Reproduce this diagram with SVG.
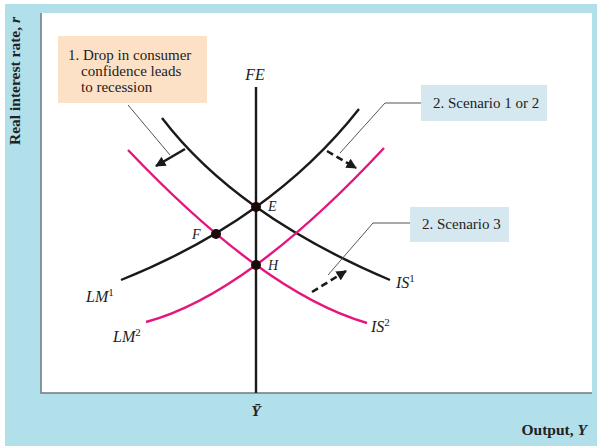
<svg xmlns="http://www.w3.org/2000/svg" width="597" height="446" viewBox="0 0 597 446">
<defs>
<style>
.t{font-family:"Liberation Serif","Times New Roman",serif;fill:#222}
.box{font-size:15px}
.ax{font-size:15.5px;font-weight:bold}
.lab{font-size:16px;font-style:italic}
.pt{font-size:14px;font-style:italic}
.sup{font-size:11px;font-style:normal}
.blk{fill:none;stroke:#1a1a1a;stroke-width:2.4}
.mag{fill:none;stroke:#e6157c;stroke-width:2.4}
.lead{fill:none;stroke:#555;stroke-width:1}
.arr{fill:none;stroke:#1a1a1a;stroke-width:2.6;marker-end:url(#ah)}
.dash{stroke-dasharray:7 4}
</style>
<marker id="ah" viewBox="0 0 10 10" refX="9" refY="5" markerWidth="4.2" markerHeight="4" orient="auto" markerUnits="strokeWidth">
<path d="M0,0 L10,5 L0,10 z" fill="#1a1a1a"/>
</marker>
</defs>
<rect x="5" y="4" width="592" height="442" fill="#b1dfea"/>
<rect x="41" y="13" width="551" height="380" fill="#ffffff"/>
<path d="M41,13 V393 H592" fill="none" stroke="#6b7b80" stroke-width="1.5"/>

<g id="axis-labels">
<text class="t ax" transform="translate(20,81) rotate(-90)" text-anchor="middle">Real interest rate, <tspan font-style="italic">r</tspan></text>
<text class="t ax" x="587" y="435" text-anchor="end">Output, <tspan font-style="italic">Y</tspan></text>
<text class="t ax" x="256" y="416" text-anchor="middle" font-style="italic">Ȳ</text>
</g>

<g id="FE">
<line x1="256" y1="87" x2="256" y2="393" stroke="#1a1a1a" stroke-width="2.4"/>
<text class="t lab" x="255" y="80" text-anchor="middle">FE</text>
</g>

<g id="IS1">
<path class="blk" d="M162,118 Q236,215 390,280"/>
<text class="t lab" x="396" y="288">IS<tspan class="sup" dy="-6">1</tspan></text>
</g>
<g id="IS2">
<path class="mag" d="M128,150 Q264.5,293.5 367,323"/>
<text class="t lab" x="371" y="332">IS<tspan class="sup" dy="-6">2</tspan></text>
</g>
<g id="LM1">
<path class="blk" d="M121,280 Q272,219.5 359,109"/>
<text class="t lab" x="86" y="302">LM<tspan class="sup" dy="-6">1</tspan></text>
</g>
<g id="LM2">
<path class="mag" d="M146,322 Q247,295 384,148"/>
<text class="t lab" x="113" y="342">LM<tspan class="sup" dy="-6">2</tspan></text>
</g>

<g id="E">
<circle cx="256" cy="207" r="5" fill="#1a0a0a"/>
<text class="t pt" x="268" y="211">E</text>
</g>
<g id="F">
<circle cx="216" cy="234" r="5" fill="#1a0a0a"/>
<text class="t pt" x="192" y="239">F</text>
</g>
<g id="H">
<circle cx="256" cy="265" r="5" fill="#1a0a0a"/>
<text class="t pt" x="268" y="270">H</text>
</g>

<g id="note1">
<rect x="58" y="36" width="149" height="67" fill="#fde1c6"/>
<text class="t box" x="68" y="60">1. Drop in consumer</text>
<text class="t box" x="81" y="76">confidence leads</text>
<text class="t box" x="81" y="92">to recession</text>
</g>
<g id="note2">
<rect x="421" y="85" width="126" height="36" fill="#d5e8f0"/>
<text class="t box" x="433" y="108">2. Scenario 1 or 2</text>
</g>
<g id="note3">
<rect x="410" y="207" width="99" height="35" fill="#d5e8f0"/>
<text class="t box" x="422" y="229">2. Scenario 3</text>
</g>

<g id="connectors">
<path class="lead" d="M128,105 L170,155"/>
<path class="lead" d="M421,103 H385 L340,153"/>
<path class="lead" d="M410,223 H373 L328,275"/>
<path class="arr" d="M185,149 L156,166"/>
<path class="arr dash" d="M327,151 L356,168"/>
<path class="arr dash" d="M312,292 L346,271"/>
</g>
</svg>
